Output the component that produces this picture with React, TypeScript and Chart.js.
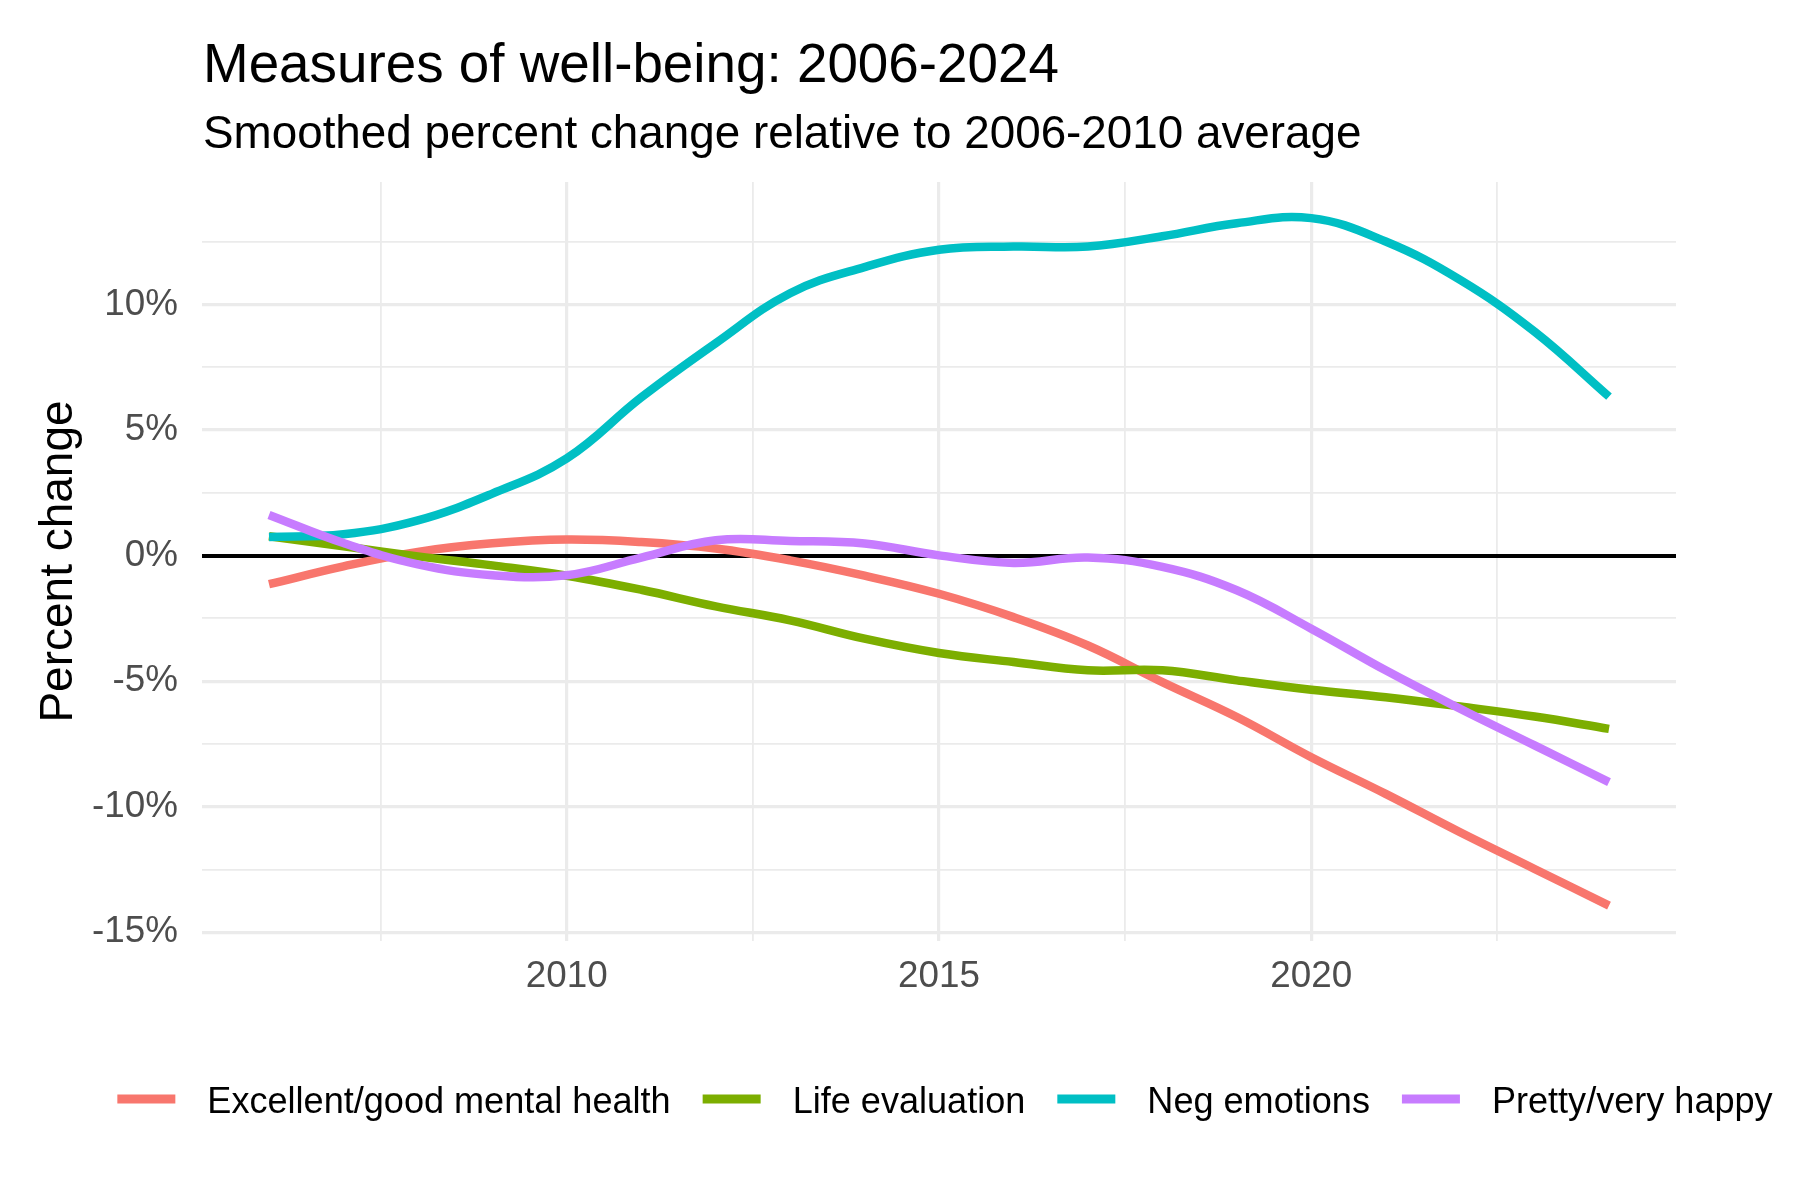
import { useEffect, useRef } from "react";
import { Chart, registerables } from "chart.js";

Chart.register(...registerables);

const FONT = "'Liberation Sans', Arial, sans-serif";

const years = [2006, 2007, 2008, 2009, 2010, 2011, 2012, 2013, 2014, 2015, 2016, 2017, 2018, 2019, 2020, 2021, 2022, 2023, 2024];

const mentalHealth = [-1.14, -0.43, 0.15, 0.49, 0.64, 0.54, 0.28, -0.19, -0.8, -1.52, -2.45, -3.58, -5.04, -6.43, -8.03, -9.49, -11.02, -12.48, -13.94];
const lifeEvaluation = [0.77, 0.37, -0.03, -0.39, -0.8, -1.36, -2.02, -2.58, -3.31, -3.88, -4.24, -4.57, -4.57, -4.97, -5.34, -5.64, -6.01, -6.41, -6.9];
const negEmotions = [0.74, 0.85, 1.4, 2.47, 3.87, 6.3, 8.46, 10.45, 11.49, 12.18, 12.31, 12.31, 12.72, 13.24, 13.44, 12.51, 10.98, 8.92, 6.33];
const prettyHappy = [1.62, 0.5, -0.35, -0.78, -0.78, -0.08, 0.61, 0.58, 0.48, 0.01, -0.29, -0.08, -0.45, -1.38, -2.91, -4.57, -6.1, -7.56, -9.02];

const seriesNames = ["Excellent/good mental health", "Life evaluation", "Neg emotions", "Pretty/very happy"];
const seriesColors = ["#F8766D", "#7CAE00", "#00BFC4", "#C77CFF"];

const xTickValues = [2007.5, 2010, 2012.5, 2015, 2017.5, 2020, 2022.5];
const xTickLabels = ["", "2010", "", "2015", "", "2020", ""];
const yTickValues = [-15, -12.5, -10, -7.5, -5, -2.5, 0, 2.5, 5, 7.5, 10, 12.5];
const yTickLabels = ["-15%", "", "-10%", "", "-5%", "", "0%", "", "5%", "", "10%", ""];

const titleText = "Measures of well-being: 2006-2024";
const subtitleText = "Smoothed percent change relative to 2006-2010 average";
const yAxisTitle = "Percent change";

const decorPlugin = {
  id: "decor",
  afterDraw(chart: any) {
    const ctx = chart.ctx as CanvasRenderingContext2D;
    const area = chart.chartArea;
    ctx.save();
    ctx.textBaseline = "alphabetic";
    ctx.textAlign = "left";
    ctx.fillStyle = "#000000";
    ctx.font = `54.8px ${FONT}`;
    ctx.fillText(titleText, area.left + 1, 82);
    ctx.font = `45.8px ${FONT}`;
    ctx.fillText(subtitleText, area.left + 1, 148);

    ctx.save();
    ctx.translate(72, (area.top + area.bottom) / 2);
    ctx.rotate(-Math.PI / 2);
    ctx.textAlign = "center";
    ctx.font = `46px ${FONT}`;
    ctx.fillText(yAxisTitle, 0, 0);
    ctx.restore();

    ctx.font = `36.1px ${FONT}`;
    const keyW = 58;
    const gap = 32;
    const widths = seriesNames.map((n) => ctx.measureText(n).width);
    const total =
      widths.reduce((a, b) => a + b, 0) + seriesNames.length * (keyW + gap) + (seriesNames.length - 1) * gap;
    let x = 945 - total / 2;
    seriesNames.forEach((n, i) => {
      ctx.fillStyle = seriesColors[i];
      ctx.fillRect(x, 1094.5, keyW, 9);
      x += keyW + gap;
      ctx.fillStyle = "#000000";
      ctx.textAlign = "left";
      ctx.fillText(n, x, 1113);
      x += widths[i] + gap;
    });
    ctx.restore();
  },
};

export default function App() {
  const canvasRef = useRef<HTMLCanvasElement | null>(null);

  useEffect(() => {
    const canvas = canvasRef.current;
    if (!canvas) return;
    const seriesValues = [mentalHealth, lifeEvaluation, negEmotions, prettyHappy];
    const drawOrder = [3, 2, 1, 0];
    const chart = new Chart(canvas, {
      type: "line",
      data: {
        datasets: seriesNames.map((name, i) => ({
          label: name,
          data: years.map((yr, j) => ({ x: yr, y: seriesValues[i][j] })),
          borderColor: seriesColors[i],
          backgroundColor: seriesColors[i],
          borderWidth: 8.5,
          pointRadius: 0,
          pointHoverRadius: 0,
          tension: 0.4,
          fill: false,
          order: drawOrder[i],
        })),
      },
      options: {
        animation: false,
        responsive: false,
        devicePixelRatio: 1,
        events: [],
        layout: { padding: { left: 0, top: 182, right: 124, bottom: 199 } },
        plugins: {
          legend: { display: false },
          title: { display: false },
          tooltip: { enabled: false },
        },
        scales: {
          x: {
            type: "linear",
            min: 2005.1,
            max: 2024.9,
            afterBuildTicks: (scale: any) => {
              scale.ticks = xTickValues.map((v) => ({ value: v }));
            },
            afterFit: (scale: any) => {
              scale.height = 60;
            },
            border: { display: false },
            grid: {
              drawTicks: false,
              color: "#EBEBEB",
              lineWidth: (c: any) => (c.tick && c.tick.value % 5 === 0 ? 3.2 : 1.8),
            },
            ticks: {
              autoSkip: false,
              maxRotation: 0,
              padding: 14,
              color: "#4D4D4D",
              font: { family: FONT, size: 36.8 },
              callback: (value: any) => {
                const idx = xTickValues.indexOf(Number(value));
                return idx >= 0 ? xTickLabels[idx] : "";
              },
            },
          },
          y: {
            type: "linear",
            min: -15.35,
            max: 14.88,
            afterBuildTicks: (scale: any) => {
              scale.ticks = yTickValues.map((v) => ({ value: v }));
            },
            afterFit: (scale: any) => {
              scale.width = 202;
            },
            border: { display: false },
            grid: {
              drawTicks: false,
              color: (c: any) => (c.tick && c.tick.value === 0 ? "#000000" : "#EBEBEB"),
              lineWidth: (c: any) => {
                if (!c.tick) return 1.8;
                if (c.tick.value === 0) return 4;
                return c.tick.value % 5 === 0 ? 3.2 : 1.8;
              },
            },
            ticks: {
              autoSkip: false,
              padding: 24,
              color: "#4D4D4D",
              font: { family: FONT, size: 36.8 },
              callback: (value: any) => {
                const idx = yTickValues.indexOf(Number(value));
                return idx >= 0 ? yTickLabels[idx] : "";
              },
            },
          },
        },
      },
      plugins: [decorPlugin],
    });
    return () => {
      chart.destroy();
    };
  }, []);

  return (
    <div style={{ position: "absolute", left: 0, top: 0, width: 1800, height: 1200, background: "#ffffff" }}>
      <canvas ref={canvasRef} width={1800} height={1200} style={{ width: 1800, height: 1200, display: "block" }} />
    </div>
  );
}
